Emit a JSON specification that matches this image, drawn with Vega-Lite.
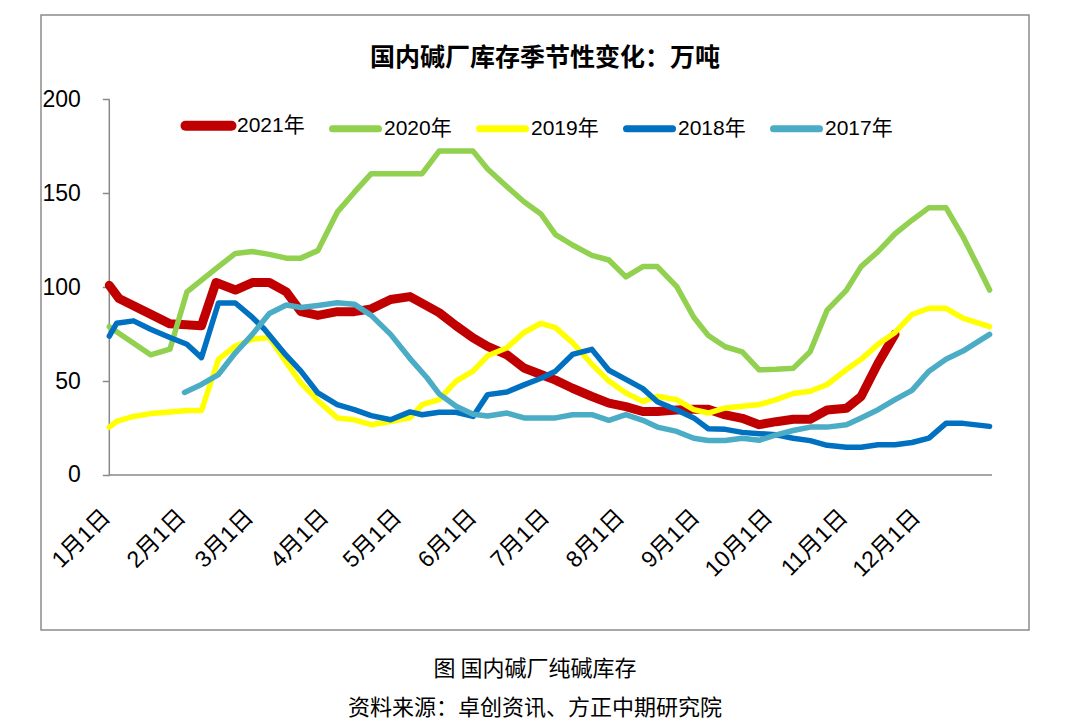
{
  "$schema": "https://vega.github.io/schema/vega-lite/v6.json",
  "width": 988,
  "height": 615,
  "autosize": {"type": "none"},
  "padding": {"left": 41, "top": 15, "right": 51, "bottom": 92},
  "background": "white",
  "config": {
    "view": {"stroke": "#8c8c8c", "strokeWidth": 1.5}
  },
  "title": {
    "text": "图  国内碱厂纯碱库存",
    "subtitle": "资料来源：卓创资讯、方正中期研究院",
    "orient": "bottom",
    "anchor": "middle",
    "offset": 29,
    "font": "Noto Sans CJK SC",
    "fontSize": 22,
    "fontWeight": "normal",
    "color": "#000000",
    "subtitleFont": "Noto Sans CJK SC",
    "subtitleFontSize": 22,
    "subtitleColor": "#000000",
    "subtitlePadding": 17
  },
  "layer": [
    {
      "data": {"values": [{}]},
      "mark": {"type": "rule", "color": "#898989", "strokeWidth": 1.5},
      "encoding": {
        "x": {"datum": {"year": 2021, "month": 1, "date": 1, "utc": true}, "type": "temporal", "scale": {"type": "utc"}},
        "y": {"datum": 0, "type": "quantitative"},
        "y2": {"datum": 200}
      }
    },
    {
      "data": {"values": [{}]},
      "mark": {"type": "rule", "color": "#898989", "strokeWidth": 1.5},
      "encoding": {
        "x": {"datum": {"year": 2021, "month": 1, "date": 1, "utc": true}, "type": "temporal", "scale": {"type": "utc"}},
        "x2": {"datum": {"year": 2021, "month": 12, "date": 31, "utc": true}},
        "y": {"datum": 0, "type": "quantitative"}
      }
    },
    {
      "data": {"values": [
        {"series": "2021年", "date": "2021-01-01", "value": 101},
        {"series": "2021年", "date": "2021-01-05", "value": 94},
        {"series": "2021年", "date": "2021-01-19", "value": 85},
        {"series": "2021年", "date": "2021-01-26", "value": 80.5},
        {"series": "2021年", "date": "2021-02-08", "value": 79.5},
        {"series": "2021年", "date": "2021-02-14", "value": 102.5},
        {"series": "2021年", "date": "2021-02-22", "value": 98.5},
        {"series": "2021年", "date": "2021-03-01", "value": 102.5},
        {"series": "2021年", "date": "2021-03-08", "value": 102.5},
        {"series": "2021年", "date": "2021-03-15", "value": 97.5},
        {"series": "2021年", "date": "2021-03-21", "value": 87},
        {"series": "2021年", "date": "2021-03-28", "value": 85},
        {"series": "2021年", "date": "2021-04-05", "value": 87},
        {"series": "2021年", "date": "2021-04-12", "value": 87},
        {"series": "2021年", "date": "2021-04-19", "value": 88.5},
        {"series": "2021年", "date": "2021-04-27", "value": 93.5},
        {"series": "2021年", "date": "2021-05-05", "value": 95},
        {"series": "2021年", "date": "2021-05-17", "value": 86.5},
        {"series": "2021年", "date": "2021-05-24", "value": 79.5},
        {"series": "2021年", "date": "2021-05-31", "value": 73},
        {"series": "2021年", "date": "2021-06-06", "value": 68.5},
        {"series": "2021年", "date": "2021-06-14", "value": 64},
        {"series": "2021年", "date": "2021-06-21", "value": 57},
        {"series": "2021年", "date": "2021-06-28", "value": 53.5},
        {"series": "2021年", "date": "2021-07-04", "value": 50.5},
        {"series": "2021年", "date": "2021-07-11", "value": 46.2},
        {"series": "2021年", "date": "2021-07-19", "value": 41.8},
        {"series": "2021年", "date": "2021-07-26", "value": 38.3},
        {"series": "2021年", "date": "2021-08-02", "value": 36.4},
        {"series": "2021年", "date": "2021-08-09", "value": 33.8},
        {"series": "2021年", "date": "2021-08-15", "value": 33.8},
        {"series": "2021年", "date": "2021-08-23", "value": 34.6},
        {"series": "2021年", "date": "2021-08-30", "value": 35},
        {"series": "2021年", "date": "2021-09-05", "value": 35},
        {"series": "2021年", "date": "2021-09-12", "value": 32},
        {"series": "2021年", "date": "2021-09-19", "value": 30.2},
        {"series": "2021年", "date": "2021-09-26", "value": 26.8},
        {"series": "2021年", "date": "2021-10-03", "value": 28.4},
        {"series": "2021年", "date": "2021-10-10", "value": 29.7},
        {"series": "2021年", "date": "2021-10-17", "value": 29.7},
        {"series": "2021年", "date": "2021-10-24", "value": 34.6},
        {"series": "2021年", "date": "2021-11-01", "value": 35.5},
        {"series": "2021年", "date": "2021-11-07", "value": 41.8},
        {"series": "2021年", "date": "2021-11-14", "value": 59.5},
        {"series": "2021年", "date": "2021-11-21", "value": 75},

        {"series": "2020年", "date": "2021-01-01", "value": 79},
        {"series": "2020年", "date": "2021-01-18", "value": 64},
        {"series": "2020年", "date": "2021-01-26", "value": 67},
        {"series": "2020年", "date": "2021-02-02", "value": 97.5},
        {"series": "2020年", "date": "2021-02-15", "value": 111},
        {"series": "2020年", "date": "2021-02-22", "value": 118},
        {"series": "2020年", "date": "2021-03-01", "value": 119},
        {"series": "2020年", "date": "2021-03-08", "value": 117.5},
        {"series": "2020年", "date": "2021-03-15", "value": 115.5},
        {"series": "2020年", "date": "2021-03-21", "value": 115.5},
        {"series": "2020年", "date": "2021-03-28", "value": 119.5},
        {"series": "2020年", "date": "2021-04-05", "value": 140},
        {"series": "2020年", "date": "2021-04-12", "value": 150.5},
        {"series": "2020年", "date": "2021-04-19", "value": 160.5},
        {"series": "2020年", "date": "2021-04-27", "value": 160.5},
        {"series": "2020年", "date": "2021-05-05", "value": 160.5},
        {"series": "2020年", "date": "2021-05-10", "value": 160.5},
        {"series": "2020年", "date": "2021-05-17", "value": 172.5},
        {"series": "2020年", "date": "2021-05-24", "value": 172.5},
        {"series": "2020年", "date": "2021-05-31", "value": 172.5},
        {"series": "2020年", "date": "2021-06-06", "value": 163},
        {"series": "2020年", "date": "2021-06-14", "value": 153.5},
        {"series": "2020年", "date": "2021-06-21", "value": 145.5},
        {"series": "2020年", "date": "2021-06-28", "value": 139},
        {"series": "2020年", "date": "2021-07-04", "value": 128},
        {"series": "2020年", "date": "2021-07-11", "value": 122.5},
        {"series": "2020年", "date": "2021-07-19", "value": 117},
        {"series": "2020年", "date": "2021-07-26", "value": 114.5},
        {"series": "2020年", "date": "2021-08-02", "value": 105.5},
        {"series": "2020年", "date": "2021-08-09", "value": 111},
        {"series": "2020年", "date": "2021-08-15", "value": 111},
        {"series": "2020年", "date": "2021-08-23", "value": 100.3},
        {"series": "2020年", "date": "2021-08-30", "value": 84},
        {"series": "2020年", "date": "2021-09-05", "value": 74.3},
        {"series": "2020年", "date": "2021-09-12", "value": 68.3},
        {"series": "2020年", "date": "2021-09-19", "value": 65.6},
        {"series": "2020年", "date": "2021-09-26", "value": 56},
        {"series": "2020年", "date": "2021-10-03", "value": 56.3},
        {"series": "2020年", "date": "2021-10-10", "value": 56.8},
        {"series": "2020年", "date": "2021-10-17", "value": 65.6},
        {"series": "2020年", "date": "2021-10-24", "value": 87.8},
        {"series": "2020年", "date": "2021-11-01", "value": 98.5},
        {"series": "2020年", "date": "2021-11-07", "value": 111},
        {"series": "2020年", "date": "2021-11-14", "value": 119},
        {"series": "2020年", "date": "2021-11-21", "value": 128.5},
        {"series": "2020年", "date": "2021-11-28", "value": 135.7},
        {"series": "2020年", "date": "2021-12-05", "value": 142.4},
        {"series": "2020年", "date": "2021-12-12", "value": 142.4},
        {"series": "2020年", "date": "2021-12-19", "value": 127},
        {"series": "2020年", "date": "2021-12-26", "value": 109},
        {"series": "2020年", "date": "2021-12-30", "value": 98.5},

        {"series": "2019年", "date": "2021-01-01", "value": 25.5},
        {"series": "2019年", "date": "2021-01-04", "value": 28.5},
        {"series": "2019年", "date": "2021-01-11", "value": 31.2},
        {"series": "2019年", "date": "2021-01-18", "value": 32.7},
        {"series": "2019年", "date": "2021-01-26", "value": 33.6},
        {"series": "2019年", "date": "2021-02-02", "value": 34.4},
        {"series": "2019年", "date": "2021-02-08", "value": 34.3},
        {"series": "2019年", "date": "2021-02-15", "value": 61.6},
        {"series": "2019年", "date": "2021-02-22", "value": 68.7},
        {"series": "2019年", "date": "2021-03-01", "value": 72.3},
        {"series": "2019年", "date": "2021-03-08", "value": 73.2},
        {"series": "2019年", "date": "2021-03-15", "value": 59.8},
        {"series": "2019年", "date": "2021-03-21", "value": 49.1},
        {"series": "2019年", "date": "2021-03-28", "value": 39.6},
        {"series": "2019年", "date": "2021-04-05", "value": 30.4},
        {"series": "2019年", "date": "2021-04-12", "value": 29.4},
        {"series": "2019年", "date": "2021-04-19", "value": 26.8},
        {"series": "2019年", "date": "2021-04-27", "value": 28.5},
        {"series": "2019年", "date": "2021-05-05", "value": 30.4},
        {"series": "2019年", "date": "2021-05-10", "value": 37.5},
        {"series": "2019年", "date": "2021-05-17", "value": 40.1},
        {"series": "2019年", "date": "2021-05-24", "value": 50},
        {"series": "2019年", "date": "2021-05-31", "value": 55.3},
        {"series": "2019年", "date": "2021-06-06", "value": 63.5},
        {"series": "2019年", "date": "2021-06-14", "value": 67.8},
        {"series": "2019年", "date": "2021-06-21", "value": 75.9},
        {"series": "2019年", "date": "2021-06-28", "value": 80.8},
        {"series": "2019年", "date": "2021-07-04", "value": 78.5},
        {"series": "2019年", "date": "2021-07-11", "value": 70.5},
        {"series": "2019年", "date": "2021-07-19", "value": 59},
        {"series": "2019年", "date": "2021-07-26", "value": 50},
        {"series": "2019年", "date": "2021-08-02", "value": 43.7},
        {"series": "2019年", "date": "2021-08-09", "value": 39.2},
        {"series": "2019年", "date": "2021-08-15", "value": 41.9},
        {"series": "2019年", "date": "2021-08-23", "value": 40.1},
        {"series": "2019年", "date": "2021-08-30", "value": 34.8},
        {"series": "2019年", "date": "2021-09-05", "value": 33},
        {"series": "2019年", "date": "2021-09-12", "value": 35.7},
        {"series": "2019年", "date": "2021-09-19", "value": 36.6},
        {"series": "2019年", "date": "2021-09-26", "value": 37.5},
        {"series": "2019年", "date": "2021-10-03", "value": 40.1},
        {"series": "2019年", "date": "2021-10-10", "value": 43.4},
        {"series": "2019年", "date": "2021-10-17", "value": 44.6},
        {"series": "2019年", "date": "2021-10-24", "value": 48.2},
        {"series": "2019年", "date": "2021-11-01", "value": 56.2},
        {"series": "2019年", "date": "2021-11-07", "value": 61.6},
        {"series": "2019年", "date": "2021-11-14", "value": 69.6},
        {"series": "2019年", "date": "2021-11-21", "value": 75.9},
        {"series": "2019年", "date": "2021-11-28", "value": 85.5},
        {"series": "2019年", "date": "2021-12-05", "value": 88.8},
        {"series": "2019年", "date": "2021-12-12", "value": 88.8},
        {"series": "2019年", "date": "2021-12-19", "value": 83.6},
        {"series": "2019年", "date": "2021-12-30", "value": 79},

        {"series": "2018年", "date": "2021-01-01", "value": 74},
        {"series": "2018年", "date": "2021-01-04", "value": 80.8},
        {"series": "2018年", "date": "2021-01-11", "value": 82.1},
        {"series": "2018年", "date": "2021-01-18", "value": 77.6},
        {"series": "2018年", "date": "2021-01-26", "value": 73.2},
        {"series": "2018年", "date": "2021-02-02", "value": 69.6},
        {"series": "2018年", "date": "2021-02-08", "value": 62.5},
        {"series": "2018年", "date": "2021-02-15", "value": 91.6},
        {"series": "2018年", "date": "2021-02-22", "value": 91.6},
        {"series": "2018年", "date": "2021-03-01", "value": 83.9},
        {"series": "2018年", "date": "2021-03-06", "value": 77.6},
        {"series": "2018年", "date": "2021-03-14", "value": 65.1},
        {"series": "2018年", "date": "2021-03-21", "value": 55.3},
        {"series": "2018年", "date": "2021-03-28", "value": 43.7},
        {"series": "2018年", "date": "2021-04-05", "value": 37.5},
        {"series": "2018年", "date": "2021-04-12", "value": 34.8},
        {"series": "2018年", "date": "2021-04-19", "value": 31.6},
        {"series": "2018年", "date": "2021-04-27", "value": 29.4},
        {"series": "2018年", "date": "2021-05-05", "value": 33.6},
        {"series": "2018年", "date": "2021-05-10", "value": 32.1},
        {"series": "2018年", "date": "2021-05-17", "value": 33.4},
        {"series": "2018年", "date": "2021-05-24", "value": 33.4},
        {"series": "2018年", "date": "2021-05-31", "value": 31.2},
        {"series": "2018年", "date": "2021-06-06", "value": 42.8},
        {"series": "2018年", "date": "2021-06-14", "value": 44.2},
        {"series": "2018年", "date": "2021-06-21", "value": 48},
        {"series": "2018年", "date": "2021-06-28", "value": 51.5},
        {"series": "2018年", "date": "2021-07-04", "value": 55.3},
        {"series": "2018年", "date": "2021-07-11", "value": 64.2},
        {"series": "2018年", "date": "2021-07-19", "value": 66.9},
        {"series": "2018年", "date": "2021-07-26", "value": 55.8},
        {"series": "2018年", "date": "2021-08-02", "value": 50.9},
        {"series": "2018年", "date": "2021-08-09", "value": 46},
        {"series": "2018年", "date": "2021-08-15", "value": 39},
        {"series": "2018年", "date": "2021-08-23", "value": 34.6},
        {"series": "2018年", "date": "2021-08-30", "value": 30.4},
        {"series": "2018年", "date": "2021-09-05", "value": 24.6},
        {"series": "2018年", "date": "2021-09-12", "value": 24.3},
        {"series": "2018年", "date": "2021-09-19", "value": 22.7},
        {"series": "2018年", "date": "2021-09-26", "value": 22},
        {"series": "2018年", "date": "2021-10-03", "value": 21.4},
        {"series": "2018年", "date": "2021-10-10", "value": 19.6},
        {"series": "2018年", "date": "2021-10-17", "value": 18.3},
        {"series": "2018年", "date": "2021-10-24", "value": 15.8},
        {"series": "2018年", "date": "2021-11-01", "value": 14.8},
        {"series": "2018年", "date": "2021-11-07", "value": 14.8},
        {"series": "2018年", "date": "2021-11-14", "value": 16.1},
        {"series": "2018年", "date": "2021-11-21", "value": 16.1},
        {"series": "2018年", "date": "2021-11-28", "value": 17.3},
        {"series": "2018年", "date": "2021-12-05", "value": 19.6},
        {"series": "2018年", "date": "2021-12-12", "value": 27.5},
        {"series": "2018年", "date": "2021-12-19", "value": 27.5},
        {"series": "2018年", "date": "2021-12-30", "value": 25.9},

        {"series": "2017年", "date": "2021-02-01", "value": 44},
        {"series": "2017年", "date": "2021-02-08", "value": 48.2},
        {"series": "2017年", "date": "2021-02-15", "value": 53.5},
        {"series": "2017年", "date": "2021-02-22", "value": 65.1},
        {"series": "2017年", "date": "2021-03-01", "value": 74.9},
        {"series": "2017年", "date": "2021-03-08", "value": 86},
        {"series": "2017年", "date": "2021-03-15", "value": 90.5},
        {"series": "2017年", "date": "2021-03-21", "value": 89.2},
        {"series": "2017年", "date": "2021-03-28", "value": 90.3},
        {"series": "2017年", "date": "2021-04-05", "value": 91.7},
        {"series": "2017年", "date": "2021-04-12", "value": 91},
        {"series": "2017年", "date": "2021-04-19", "value": 85},
        {"series": "2017年", "date": "2021-04-27", "value": 74.9},
        {"series": "2017年", "date": "2021-05-05", "value": 62},
        {"series": "2017年", "date": "2021-05-12", "value": 51.8},
        {"series": "2017年", "date": "2021-05-17", "value": 43.2},
        {"series": "2017年", "date": "2021-05-24", "value": 36.6},
        {"series": "2017年", "date": "2021-05-31", "value": 32.4},
        {"series": "2017年", "date": "2021-06-06", "value": 31.4},
        {"series": "2017年", "date": "2021-06-14", "value": 33},
        {"series": "2017年", "date": "2021-06-21", "value": 30.4},
        {"series": "2017年", "date": "2021-06-28", "value": 30.4},
        {"series": "2017年", "date": "2021-07-04", "value": 30.4},
        {"series": "2017年", "date": "2021-07-11", "value": 32.1},
        {"series": "2017年", "date": "2021-07-19", "value": 32.1},
        {"series": "2017年", "date": "2021-07-26", "value": 29.1},
        {"series": "2017年", "date": "2021-08-02", "value": 32.1},
        {"series": "2017年", "date": "2021-08-09", "value": 29.1},
        {"series": "2017年", "date": "2021-08-15", "value": 25.5},
        {"series": "2017年", "date": "2021-08-23", "value": 23.2},
        {"series": "2017年", "date": "2021-08-30", "value": 19.6},
        {"series": "2017年", "date": "2021-09-05", "value": 18.4},
        {"series": "2017年", "date": "2021-09-12", "value": 18.4},
        {"series": "2017年", "date": "2021-09-19", "value": 19.6},
        {"series": "2017年", "date": "2021-09-26", "value": 18.5},
        {"series": "2017年", "date": "2021-10-03", "value": 21.4},
        {"series": "2017年", "date": "2021-10-10", "value": 23.7},
        {"series": "2017年", "date": "2021-10-17", "value": 25.5},
        {"series": "2017年", "date": "2021-10-24", "value": 25.5},
        {"series": "2017年", "date": "2021-11-01", "value": 26.8},
        {"series": "2017年", "date": "2021-11-07", "value": 30.4},
        {"series": "2017年", "date": "2021-11-14", "value": 34.8},
        {"series": "2017年", "date": "2021-11-21", "value": 40.1},
        {"series": "2017年", "date": "2021-11-28", "value": 45.1},
        {"series": "2017年", "date": "2021-12-05", "value": 55.3},
        {"series": "2017年", "date": "2021-12-12", "value": 61.6},
        {"series": "2017年", "date": "2021-12-19", "value": 66},
        {"series": "2017年", "date": "2021-12-30", "value": 74.9}
      ]},
      "mark": {"type": "line", "strokeJoin": "round", "strokeCap": "round"},
      "encoding": {
        "x": {
          "field": "date",
          "type": "temporal",
          "scale": {
            "type": "utc",
            "domain": [
              {"year": 2020, "month": 12, "date": 3, "hours": 20, "utc": true},
              {"year": 2022, "month": 1, "date": 15, "hours": 6, "utc": true}
            ],
            "nice": false
          },
          "axis": {
            "title": null,
            "offset": -155,
            "domain": false,
            "ticks": false,
            "tickSize": 0,
            "grid": false,
            "values": [
              {"year": 2021, "month": 1, "date": 1, "utc": true},
              {"year": 2021, "month": 2, "date": 1, "utc": true},
              {"year": 2021, "month": 3, "date": 1, "utc": true},
              {"year": 2021, "month": 4, "date": 1, "utc": true},
              {"year": 2021, "month": 5, "date": 1, "utc": true},
              {"year": 2021, "month": 6, "date": 1, "utc": true},
              {"year": 2021, "month": 7, "date": 1, "utc": true},
              {"year": 2021, "month": 8, "date": 1, "utc": true},
              {"year": 2021, "month": 9, "date": 1, "utc": true},
              {"year": 2021, "month": 10, "date": 1, "utc": true},
              {"year": 2021, "month": 11, "date": 1, "utc": true},
              {"year": 2021, "month": 12, "date": 1, "utc": true}
            ],
            "format": "%-m月%-d日",
            "labelAngle": -45,
            "labelAlign": "right",
            "labelBaseline": "middle",
            "labelPadding": 38,
            "labelOffset": -3,
            "labelOverlap": false,
            "labelFlush": false,
            "labelFont": "Liberation Sans, Noto Sans CJK SC",
            "labelFontSize": 23,
            "labelColor": "#000000"
          }
        },
        "y": {
          "field": "value",
          "type": "quantitative",
          "scale": {"domain": [-82.56, 245], "nice": false, "zero": false},
          "axis": {
            "title": null,
            "offset": -68.3,
            "domain": false,
            "grid": false,
            "values": [0, 50, 100, 150, 200],
            "tickSize": 7,
            "tickColor": "#898989",
            "tickWidth": 1.5,
            "labelPadding": 22,
            "labelFont": "Liberation Sans",
            "labelFontSize": 23,
            "labelColor": "#000000"
          }
        },
        "color": {
          "field": "series",
          "type": "nominal",
          "scale": {
            "domain": ["2021年", "2020年", "2019年", "2018年", "2017年"],
            "range": ["#C00000", "#92D050", "#FFFF00", "#0070C0", "#4BACC6"]
          },
          "legend": {
            "title": "国内碱厂库存季节性变化：万吨",
            "orient": "none",
            "legendX": 157,
            "legendY": 31,
            "direction": "horizontal",
            "titleOrient": "top",
            "titleAnchor": "middle",
            "titleFont": "Noto Sans CJK SC",
            "titleFontSize": 25,
            "titleFontWeight": "bold",
            "titleColor": "#000000",
            "titlePadding": 44,
            "titleLimit": 600,
            "padding": 0,
            "symbolType": "stroke",
            "symbolSize": 2116,
            "symbolStrokeWidth": 7,
            "labelFont": "Liberation Sans, Noto Sans CJK SC",
            "labelFontSize": 21,
            "labelColor": "#000000",
            "labelOffset": 18,
            "labelLimit": 200,
            "columnPadding": 13,
            "encode": {
              "symbols": {
                "update": {
                  "strokeWidth": {"signal": "datum.value === '2021年' ? 10 : 7"},
                  "strokeCap": {"value": "round"}
                }
              }
            }
          }
        },
        "strokeWidth": {
          "condition": {"test": "datum.series === '2021年'", "value": 9},
          "value": 5.5
        }
      }
    }
  ]
}
